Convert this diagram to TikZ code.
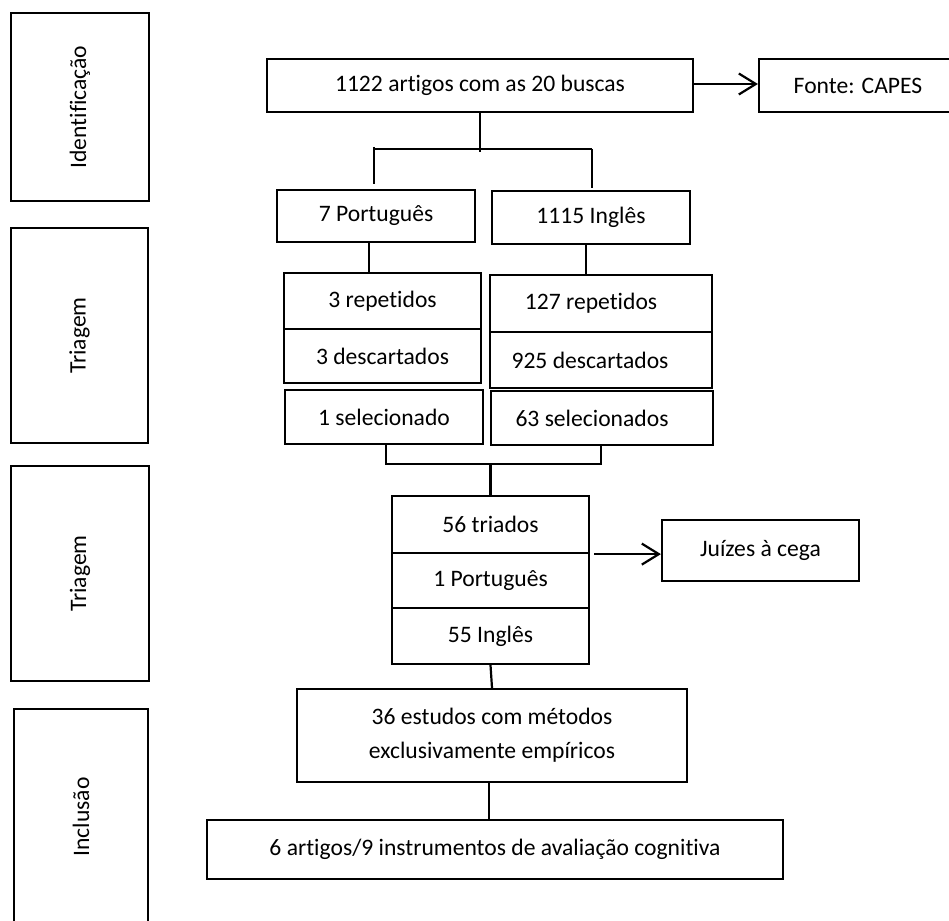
\documentclass[tikz,border=0pt]{standalone}
\usepackage{fontspec}
\setmainfont{Carlito}[Ligatures=NoCommon]
\usetikzlibrary{arrows.meta}
\begin{document}
\begin{tikzpicture}[x=1pt,y=-1pt,
  box/.style 2 args={draw=black, line width=2.2pt, inner sep=0pt,
    minimum width=#1 pt, minimum height=#2 pt,
    font=\fontsize{23.6}{34}\selectfont, align=center},
  conn/.style={draw=black, line width=2.2pt},
  arr/.style={conn, -{Straight Barb[length=17pt,width=21pt,line width=2.2pt]}}]
\useasboundingbox (0,0) rectangle (949,920);
\clip (0,0) rectangle (949,920);
% stage boxes
\node[box={138}{188}] (ident) at (80,107) {\rotatebox{90}{Identificação}};
\node[box={137}{215}] (tri1) at (79.5,335.5) {\rotatebox{90}{Triagem}};
\node[box={138}{215}] (tri2) at (80,573.5) {\rotatebox{90}{Triagem}};
\node[box={134}{216}] (incl) at (81,817) {\rotatebox{90}{Inclusão}};
% flow boxes
\node[box={426}{53}] (top) at (480,85.5) {1122 artigos com as 20 buscas};
\node[box={198}{53}] (fonte) at (858,85.5) {Fonte: CAPES};
\node[box={198}{52}] (pt) at (376,216) {7 Português};
\node[box={198}{53}] (en) at (591,217.5) {1115 Inglês};
\node[box={197}{56}] (rep3) at (382.5,301) {3 repetidos};
\node[box={197}{54}] (desc3) at (382.5,356) {3 descartados};
\node[box={222}{57}] (rep127) at (601,303.5) {\hspace*{-20pt}127 repetidos};
\node[box={222}{56}] (desc925) at (601,360) {\hspace*{-22pt}925 descartados};
\node[box={198}{54}] (sel1) at (384,417) {1 selecionado};
\node[box={222}{54}] (sel63) at (602,418) {\hspace*{-20pt}63 selecionados};
\node[box={197}{57}] (tri56) at (490.5,524.5) {56 triados};
\node[box={197}{55}] (pt1) at (490.5,580.5) {1 Português};
\node[box={197}{56}] (en55) at (490.5,636) {55 Inglês};
\node[box={197}{61}] (juizes) at (760.5,550.5) {Juízes à cega};
\node[box={390}{93}] (est36) at (492,735.5) {36 estudos com métodos\\exclusivamente empíricos};
\node[box={576}{59}] (art6) at (495,849.5) {6 artigos/9 instrumentos de avaliação cognitiva};
% connectors
\draw[arr] (top.east |- 0,84) -- (fonte.west |- 0,84);
\coordinate (busL) at (374,149);
\coordinate (busR) at (592,149);
\draw[conn] (top.south) -- (top.south |- 0,152);
\draw[conn] (busL) -- (busR);
\draw[conn] ([yshift=2pt]busL) -- ([yshift=5pt]busL |- pt.north);
\draw[conn] (busR) -- ([yshift=2pt]busR |- en.north);
\draw[conn] (pt.south -| 369,0) -- (rep3.north -| 369,0);
\draw[conn] (en.south -| 586,0) -- (rep127.north -| 586,0);
\coordinate (joinL) at (386,464);
\coordinate (joinR) at (601,464);
\draw[conn] (sel1.south -| joinL) -- (joinL) -- (joinR) -- (sel63.south -| joinR);
\draw[conn] (joinL -| tri56.north) -- (tri56.north);
\draw[arr] ([xshift=4pt]tri56.south east) -- (juizes.west |- tri56.south east);
\draw[conn] (en55.south) -- (est36.north);
\draw[conn] (est36.south -| 489,0) -- (art6.north -| 489,0);
\end{tikzpicture}
\end{document}
